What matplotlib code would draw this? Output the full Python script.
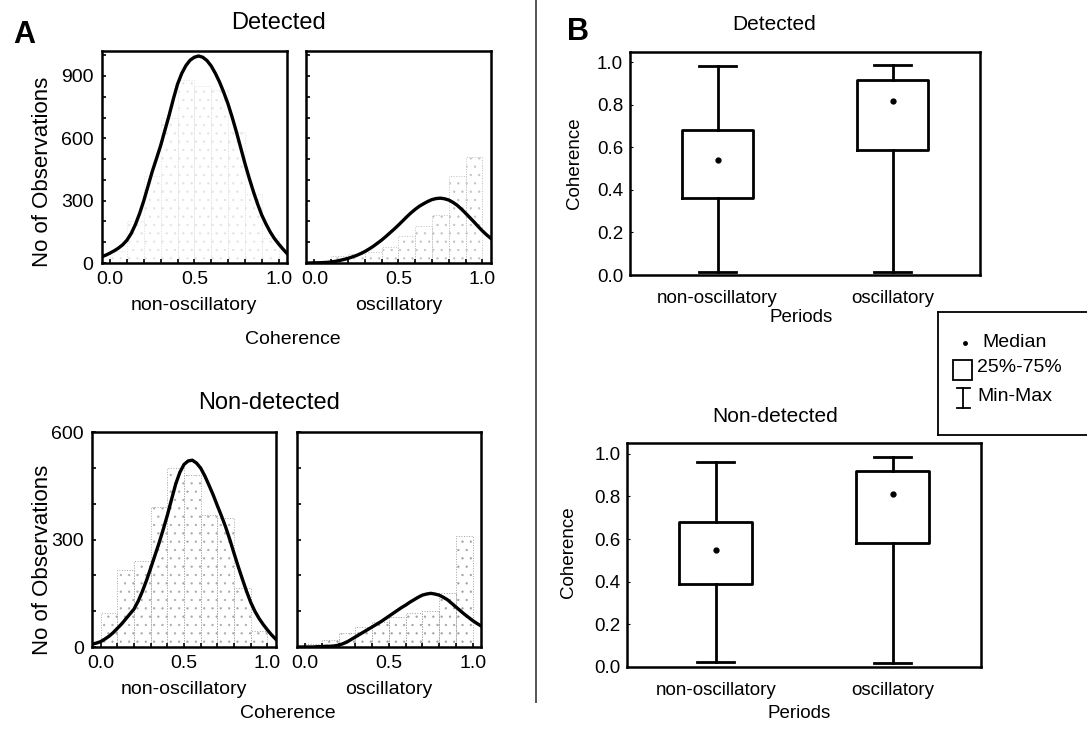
import numpy as np
import matplotlib.pyplot as plt
from matplotlib.lines import Line2D
from matplotlib.patches import Rectangle
from matplotlib.ticker import FormatStrFormatter

plt.rcParams['font.family'] = ['Liberation Sans', 'DejaVu Sans']
plt.rcParams['hatch.linewidth'] = 0.4

W, H = 1087, 731

# histogram bins of coherence (left edges, width 0.1) and counts per bin
bin_left = [0.0, 0.1, 0.2, 0.3, 0.4, 0.5, 0.6, 0.7, 0.8, 0.9]
det_nonosc_counts = [60, 200, 420, 700, 880, 850, 830, 630, 330, 120]
det_osc_counts = [5, 35, 45, 55, 75, 130, 180, 230, 420, 510]
nondet_nonosc_counts = [95, 215, 240, 390, 500, 480, 370, 360, 165, 45]
nondet_osc_counts = [8, 20, 40, 55, 70, 85, 95, 100, 150, 310]

# fitted normal curves, read at these coherence values
curve_x = [-0.05, -0.025, 0.0, 0.025, 0.05, 0.075, 0.10, 0.125, 0.15, 0.175,
           0.20, 0.225, 0.25, 0.275, 0.30, 0.325, 0.35, 0.375, 0.40, 0.425,
           0.45, 0.475, 0.50, 0.525, 0.55, 0.575, 0.60, 0.625, 0.65, 0.675,
           0.70, 0.725, 0.75, 0.775, 0.80, 0.825, 0.85, 0.875, 0.90, 0.925,
           0.95, 0.975, 1.00, 1.025, 1.05]
det_nonosc_fit = [30, 38, 48, 59, 72, 88, 110, 142, 185, 238,
                  300, 370, 440, 502, 565, 638, 710, 788, 860, 912,
                  950, 976, 990, 996, 990, 974, 948, 912, 870, 820,
                  765, 700, 630, 555, 480, 410, 345, 285, 231, 188,
                  150, 118, 92, 68, 46]
det_osc_fit = [0, 0, 1, 1, 2, 3, 5, 8, 12, 17,
               22, 29, 36, 45, 55, 67, 80, 95, 110, 127,
               145, 163, 182, 202, 222, 241, 258, 273, 285, 296,
               305, 310, 312, 309, 303, 292, 278, 260, 240, 219,
               198, 176, 155, 136, 119]
nondet_nonosc_fit = [8, 11, 15, 22, 30, 40, 52, 64, 78, 92,
                     106, 128, 155, 186, 220, 255, 290, 328, 368, 412,
                     455, 488, 510, 520, 522, 514, 500, 478, 452, 425,
                     395, 366, 335, 300, 262, 225, 190, 156, 125, 100,
                     80, 63, 48, 34, 22]
nondet_osc_fit = [0, 0, 0, 0, 0, 1, 1, 2, 2, 3,
                  5, 9, 14, 21, 28, 35, 42, 49, 56, 63,
                  70, 78, 86, 94, 102, 110, 117, 125, 132, 139,
                  145, 148, 150, 148, 145, 139, 132, 122, 112, 102,
                  92, 83, 74, 66, 59]

# box plot summaries per period
periods = ['non-oscillatory', 'oscillatory']
det_min = [0.016, 0.013]
det_q1 = [0.362, 0.587]
det_med = [0.540, 0.819]
det_q3 = [0.682, 0.918]
det_max = [0.984, 0.989]
nondet_min = [0.020, 0.019]
nondet_q1 = [0.390, 0.581]
nondet_med = [0.550, 0.812]
nondet_q3 = [0.680, 0.922]
nondet_max = [0.960, 0.987]


def axes_px(fig, left, top, right, bottom):
    return fig.add_axes([left / W, 1 - bottom / H, (right - left) / W, (bottom - top) / H])


def text_px(fig, x, y, s, **kw):
    fig.text(x / W, 1 - y / H, s, ha='center', va='center', **kw)


def hist_panel(ax, counts, fit, ytop, yticks, show_ylabels, dot_color, xlabel):
    ax.bar(bin_left, counts, width=0.1, align='edge', facecolor='none',
           edgecolor=dot_color, hatch='..', linewidth=0.7, linestyle=':')
    ax.plot(curve_x, fit, color='black', lw=2.4)
    ax.set_xlim(-0.05, 1.05)
    ax.set_ylim(0, ytop)
    ax.set_xticks([0.0, 0.5, 1.0])
    ax.set_xticklabels(['0.0', '0.5', '1.0'])
    ax.set_xticks(np.arange(0, 1.01, 0.1), minor=True)
    ax.set_yticks(yticks)
    ax.set_yticks(np.arange(0, ytop + 1, 100), minor=True)
    if not show_ylabels:
        ax.set_yticklabels([])
    ax.tick_params(which='both', direction='in', length=3, width=1.2,
                   labelsize=14, pad=6)
    ax.set_xlabel(xlabel, fontsize=14, labelpad=6)
    for sp in ax.spines.values():
        sp.set_linewidth(1.8)


def box_panel(ax, mins, q1, med, q3, maxs):
    stats = [dict(whislo=a, q1=b, med=c, q3=d, whishi=e, label=lab)
             for a, b, c, d, e, lab in zip(mins, q1, med, q3, maxs, periods)]
    ax.bxp(stats, positions=[1, 2], widths=0.41, capwidths=0.21, showfliers=False,
           boxprops=dict(lw=2, color='black'), whiskerprops=dict(lw=2, color='black'),
           capprops=dict(lw=2, color='black'), medianprops=dict(linestyle='none'))
    ax.plot([1, 2], med, 'o', color='black', ms=3.5)
    ax.set_xlim(0.5, 2.5)
    ax.set_ylim(0, 1.05)
    ax.set_yticks([0.0, 0.2, 0.4, 0.6, 0.8, 1.0])
    ax.yaxis.set_major_formatter(FormatStrFormatter('%.1f'))
    ax.tick_params(axis='y', direction='in', length=2, labelsize=13.5, pad=5)
    ax.tick_params(axis='x', length=0, labelsize=13.5, pad=11)
    for sp in ax.spines.values():
        sp.set_linewidth(1.8)


fig = plt.figure(figsize=(W / 100, H / 100), dpi=100)

# A: histograms with normal fits
ax1 = axes_px(fig, 101.7, 51, 287, 263)
hist_panel(ax1, det_nonosc_counts, det_nonosc_fit, 1020, [0, 300, 600, 900], True,
           '#e2e2e2', 'non-oscillatory')
ax2 = axes_px(fig, 306, 51, 490.7, 263)
hist_panel(ax2, det_osc_counts, det_osc_fit, 1020, [0, 300, 600, 900], False,
           '#c0c0c0', 'oscillatory')
ax3 = axes_px(fig, 92.3, 432.3, 275.7, 647)
hist_panel(ax3, nondet_nonosc_counts, nondet_nonosc_fit, 600, [0, 300, 600], True,
           '#a8a8a8', 'non-oscillatory')
ax4 = axes_px(fig, 296.7, 432.3, 481, 647)
hist_panel(ax4, nondet_osc_counts, nondet_osc_fit, 600, [0, 300, 600], False,
           '#a0a0a0', 'oscillatory')

text_px(fig, 279, 23, 'Detected', fontsize=17)
text_px(fig, 269, 403, 'Non-detected', fontsize=17)
text_px(fig, 293, 339, 'Coherence', fontsize=14)
text_px(fig, 288, 713, 'Coherence', fontsize=14)
text_px(fig, 43, 172, 'No of Observations', fontsize=16, rotation=90)
text_px(fig, 43, 560, 'No of Observations', fontsize=16, rotation=90)

# B: box plots
bx1 = axes_px(fig, 630, 51.7, 980, 275)
box_panel(bx1, det_min, det_q1, det_med, det_q3, det_max)
bx2 = axes_px(fig, 627.3, 443.3, 981, 666.7)
box_panel(bx2, nondet_min, nondet_q1, nondet_med, nondet_q3, nondet_max)

text_px(fig, 774, 24, 'Detected', fontsize=15)
text_px(fig, 775, 416, 'Non-detected', fontsize=15)
text_px(fig, 801, 317, 'Periods', fontsize=13.5)
text_px(fig, 799, 714, 'Periods', fontsize=13.5)
text_px(fig, 575, 163, 'Coherence', fontsize=13.5, rotation=90)
text_px(fig, 568, 552, 'Coherence', fontsize=13.5, rotation=90)

# key for the box plots
lax = axes_px(fig, 938, 312, W, 435)
lax.set_xlim(0, 1)
lax.set_ylim(0, 1)
lax.set_xticks([])
lax.set_yticks([])
lax.spines['right'].set_visible(False)
for sp in lax.spines.values():
    sp.set_linewidth(1.3)
lax.plot([0.18], [0.748], 'o', color='black', ms=2.5)
lax.add_patch(Rectangle((0.10, 0.447), 0.128, 0.163, facecolor='white',
                        edgecolor='black', lw=1.3))
lax.plot([0.17, 0.17], [0.22, 0.38], color='black', lw=1.3)
lax.plot([0.128, 0.215], [0.22, 0.22], color='black', lw=1.3)
lax.plot([0.128, 0.215], [0.38, 0.38], color='black', lw=1.3)
lax.text(0.295, 0.748, 'Median', fontsize=14, va='center')
lax.text(0.265, 0.545, '25%-75%', fontsize=14, va='center')
lax.text(0.265, 0.315, 'Min-Max', fontsize=14, va='center')

# separator between the two panels
fig.add_artist(Line2D([536 / W, 536 / W], [1.0, 1 - 702 / H],
                      transform=fig.transFigure, color='#555555', lw=1.4))

text_px(fig, 24, 35, 'A', fontsize=22, fontweight='bold')
text_px(fig, 578, 32, 'B', fontsize=22, fontweight='bold')

fig.savefig('out.png', dpi=100)
